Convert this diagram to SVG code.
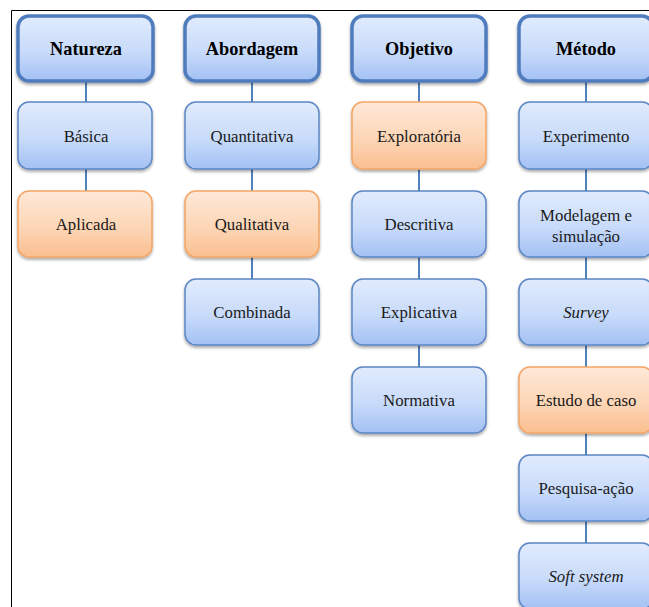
<svg xmlns="http://www.w3.org/2000/svg" width="649" height="607" viewBox="0 0 649 607">
  <defs>
    <linearGradient id="gBlue" x1="0" y1="0" x2="0" y2="1">
      <stop offset="0" stop-color="#e1ebfc"/>
      <stop offset="0.55" stop-color="#c8dbfa"/>
      <stop offset="1" stop-color="#a3c1f4"/>
    </linearGradient>
    <linearGradient id="gOrange" x1="0" y1="0" x2="0" y2="1">
      <stop offset="0" stop-color="#fee8d8"/>
      <stop offset="0.55" stop-color="#fdd6b6"/>
      <stop offset="1" stop-color="#f9bf8f"/>
    </linearGradient>
    <filter id="shadow" x="-10%" y="-10%" width="120%" height="130%">
      <feGaussianBlur in="SourceAlpha" stdDeviation="1.5"/>
      <feOffset dx="0" dy="2" result="b"/>
      <feComponentTransfer><feFuncA type="linear" slope="0.35"/></feComponentTransfer>
      <feMerge><feMergeNode/><feMergeNode in="SourceGraphic"/></feMerge>
    </filter>
  </defs>
  <style>
    .frame { fill: none; stroke: #000; stroke-width: 1; }
    .link { stroke: #4f81bd; stroke-width: 2; fill: none; }
    .head rect { fill: url(#gBlue); stroke: #4f7bbd; stroke-width: 3.5; filter: url(#shadow); }
    .blue rect { fill: url(#gBlue); stroke: #5b87c4; stroke-width: 1.5; filter: url(#shadow); }
    .orange rect { fill: url(#gOrange); stroke: #f4a565; stroke-width: 1.5; filter: url(#shadow); }
    text { font-family: "Liberation Serif", "DejaVu Serif", serif; font-size: 16.8px; fill: #1a1a1a; text-anchor: middle; }
    .head text { font-weight: bold; font-size: 18.3px; fill: #000; }
    .it { font-style: italic; }
  </style>

  <!-- outer frame -->
  <path class="frame" d="M11.5 607 V10.5 H649"/>

  <!-- connectors -->
  <g id="connectors">
    <line class="link" x1="86" y1="82" x2="86" y2="102"/>
    <line class="link" x1="86" y1="169" x2="86" y2="191"/>

    <line class="link" x1="252" y1="82" x2="252" y2="102"/>
    <line class="link" x1="252" y1="169" x2="252" y2="191"/>
    <line class="link" x1="252" y1="257" x2="252" y2="279"/>

    <line class="link" x1="419" y1="82" x2="419" y2="102"/>
    <line class="link" x1="419" y1="169" x2="419" y2="191"/>
    <line class="link" x1="419" y1="257" x2="419" y2="279"/>
    <line class="link" x1="419" y1="345" x2="419" y2="367"/>

    <line class="link" x1="586" y1="82" x2="586" y2="102"/>
    <line class="link" x1="586" y1="169" x2="586" y2="191"/>
    <line class="link" x1="586" y1="257" x2="586" y2="279"/>
    <line class="link" x1="586" y1="345" x2="586" y2="367"/>
    <line class="link" x1="586" y1="433" x2="586" y2="455"/>
    <line class="link" x1="586" y1="521" x2="586" y2="543"/>
  </g>

  <!-- Natureza -->
  <g id="natureza" class="head"><rect x="18" y="16" width="135" height="65" rx="11"/><text x="86" y="55">Natureza</text></g>
  <g id="basica" class="blue"><rect x="18" y="102" width="134" height="67" rx="11"/><text x="86" y="142">Básica</text></g>
  <g id="aplicada" class="orange"><rect x="18" y="191" width="134" height="66" rx="11"/><text x="86" y="230">Aplicada</text></g>

  <!-- Abordagem -->
  <g id="abordagem" class="head"><rect x="185" y="16" width="134" height="65" rx="11"/><text x="252" y="55">Abordagem</text></g>
  <g id="quantitativa" class="blue"><rect x="185" y="102" width="134" height="67" rx="11"/><text x="252" y="142">Quantitativa</text></g>
  <g id="qualitativa" class="orange"><rect x="185" y="191" width="134" height="66" rx="11"/><text x="252" y="230">Qualitativa</text></g>
  <g id="combinada" class="blue"><rect x="185" y="279" width="134" height="66" rx="11"/><text x="252" y="318">Combinada</text></g>

  <!-- Objetivo -->
  <g id="objetivo" class="head"><rect x="352" y="16" width="134" height="65" rx="11"/><text x="419" y="55">Objetivo</text></g>
  <g id="exploratoria" class="orange"><rect x="352" y="102" width="134" height="67" rx="11"/><text x="419" y="142">Exploratória</text></g>
  <g id="descritiva" class="blue"><rect x="352" y="191" width="134" height="66" rx="11"/><text x="419" y="230">Descritiva</text></g>
  <g id="explicativa" class="blue"><rect x="352" y="279" width="134" height="66" rx="11"/><text x="419" y="318">Explicativa</text></g>
  <g id="normativa" class="blue"><rect x="352" y="367" width="134" height="66" rx="11"/><text x="419" y="406">Normativa</text></g>

  <!-- Método -->
  <g id="metodo" class="head"><rect x="519" y="16" width="134" height="65" rx="11"/><text x="586" y="55">Método</text></g>
  <g id="experimento" class="blue"><rect x="519" y="102" width="134" height="67" rx="11"/><text x="586" y="142">Experimento</text></g>
  <g id="modelagem" class="blue"><rect x="519" y="191" width="134" height="66" rx="11"/><text x="586" y="221">Modelagem e</text><text x="586" y="242">simulação</text></g>
  <g id="survey" class="blue"><rect x="519" y="279" width="134" height="66" rx="11"/><text class="it" x="586" y="318">Survey</text></g>
  <g id="estudo" class="orange"><rect x="519" y="367" width="134" height="66" rx="11"/><text x="586" y="406">Estudo de caso</text></g>
  <g id="pesquisa" class="blue"><rect x="519" y="455" width="134" height="66" rx="11"/><text x="586" y="494">Pesquisa-ação</text></g>
  <g id="soft" class="blue"><rect x="519" y="543" width="134" height="66" rx="11"/><text class="it" x="586" y="582">Soft system</text></g>
</svg>
